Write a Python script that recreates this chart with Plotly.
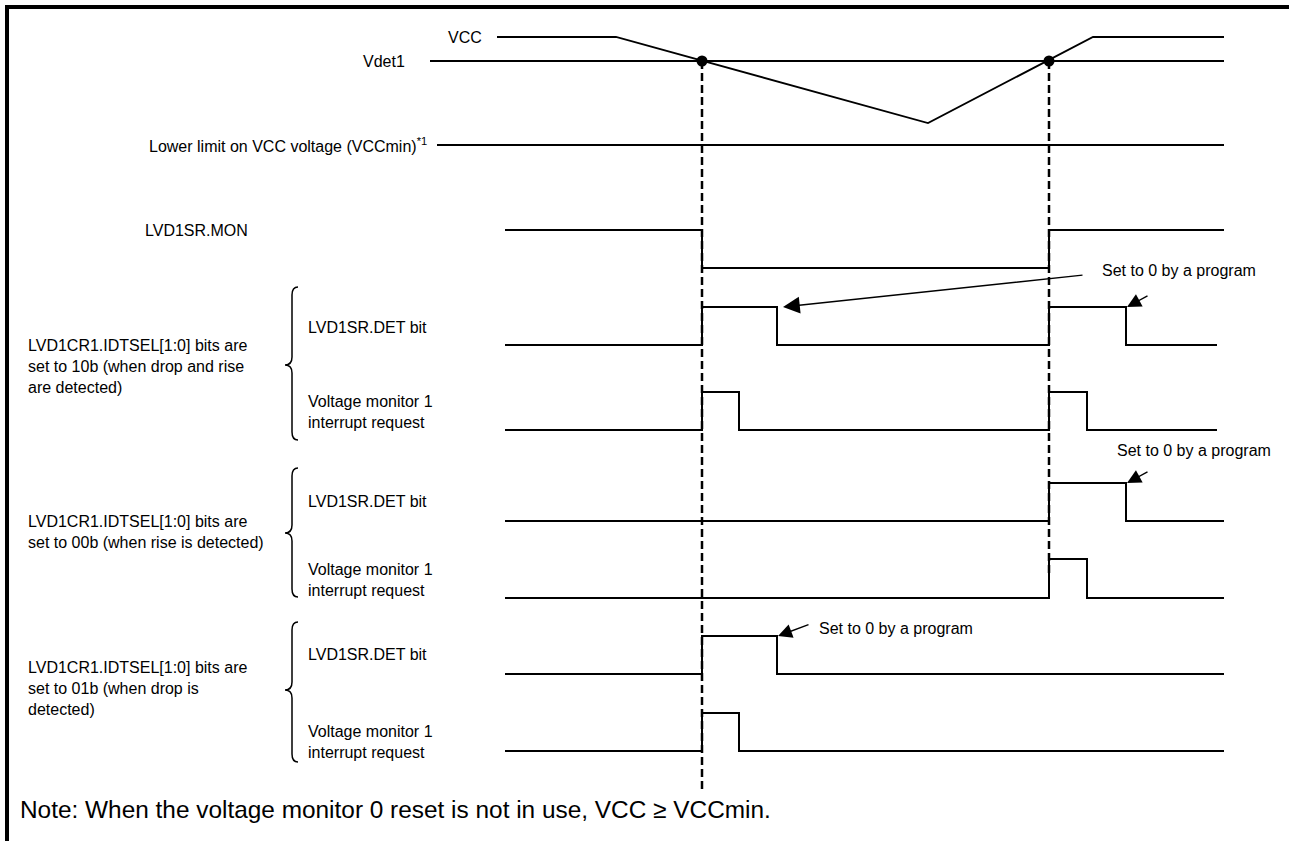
import plotly.graph_objects as go

W, H = 1289, 841
FONT = "Liberation Sans, Arial, sans-serif"
BLACK = "#000000"

# ---------------- data ----------------
# analog part (time units on the shared time axis, volts on the analog axis)
vcc_time = [497, 616, 928, 1093, 1224]
vcc_volt = [3.30, 3.30, 2.225, 3.30, 3.30]
vdet1_time = [430, 1224]
vdet1_volt = [3.00, 3.00]
vccmin_time = [437, 1224]
vccmin_volt = [1.95, 1.95]
cross_time = [702, 1049]          # VCC crosses Vdet1
cross_volt = [3.00, 3.00]

# digital signals (time, logic level)
mon_time = [505, 702, 1049, 1224]
mon_level = [1, 0, 1, 1]
det_10b_time = [505, 702, 777, 1049, 1126, 1217]
det_10b_level = [0, 1, 0, 1, 0, 0]
irq_10b_time = [505, 702, 739, 1049, 1087, 1217]
irq_10b_level = [0, 1, 0, 1, 0, 0]
det_00b_time = [505, 1049, 1126, 1224]
det_00b_level = [0, 1, 0, 0]
irq_00b_time = [505, 1049, 1087, 1224]
irq_00b_level = [0, 1, 0, 0]
det_01b_time = [505, 702, 777, 1224]
det_01b_level = [0, 1, 0, 0]
irq_01b_time = [505, 702, 739, 1224]
irq_01b_level = [0, 1, 0, 0]

# "Set to 0 by a program" events: (row, clear time)
clear_rows = ["y3", "y3", "y5", "y7"]
clear_time = [777, 1126, 1126, 777]

# text
group_labels = [
    "LVD1CR1.IDTSEL[1:0] bits are<br>set to 10b (when drop and rise<br>are detected)",
    "LVD1CR1.IDTSEL[1:0] bits are<br>set to 00b (when rise is detected)",
    "LVD1CR1.IDTSEL[1:0] bits are<br>set to 01b (when drop is<br>detected)",
]
det_label = "LVD1SR.DET bit"
irq_label = "Voltage monitor 1<br>interrupt request"
clear_label = "Set to 0 by a program"
note_text = "Note: When the voltage monitor 0 reset is not in use, VCC \u2265 VCCmin."

# ---------------- layout geometry (pixels) ----------------
row_px = {  # axis: (y of high level, y of low level)
    "y2": (230, 268),
    "y3": (307, 345),
    "y4": (392, 430),
    "y5": (483, 521),
    "y6": (559, 598),
    "y7": (636, 674),
    "y8": (713, 751),
}
PAD = 0.3
analog_top_px, analog_bot_px = 37, 145   # VCC high / VCCmin
analog_range = (1.95, 3.30)

def dom(px):  # pixel y -> paper fraction
    return 1 - px / H

fig = go.Figure()
line = dict(color=BLACK, width=2)

def add_sig(t, lv, axis):
    fig.add_trace(go.Scatter(x=t, y=lv, mode="lines", line=dict(color=BLACK, width=2, shape="hv"),
                             yaxis=axis, hoverinfo="skip", showlegend=False))

add_sig(mon_time, mon_level, "y2")
add_sig(det_10b_time, det_10b_level, "y3")
add_sig(irq_10b_time, irq_10b_level, "y4")
add_sig(det_00b_time, det_00b_level, "y5")
add_sig(irq_00b_time, irq_00b_level, "y6")
add_sig(det_01b_time, det_01b_level, "y7")
add_sig(irq_01b_time, irq_01b_level, "y8")

# analog
fig.add_trace(go.Scatter(x=vdet1_time, y=vdet1_volt, mode="lines", line=line, yaxis="y9",
                         hoverinfo="skip", showlegend=False))
fig.add_trace(go.Scatter(x=vccmin_time, y=vccmin_volt, mode="lines", line=line, yaxis="y9",
                         hoverinfo="skip", showlegend=False))
fig.add_trace(go.Scatter(x=vcc_time, y=vcc_volt, mode="lines", line=dict(color=BLACK, width=1.8),
                         yaxis="y9", hoverinfo="skip", showlegend=False))
fig.add_trace(go.Scatter(x=cross_time, y=cross_volt, mode="markers",
                         marker=dict(color=BLACK, size=11), yaxis="y9", cliponaxis=False,
                         hoverinfo="skip", showlegend=False))

# axes
layout_axes = {}
layout_axes["xaxis"] = dict(range=[0, W], domain=[0, 1], visible=False, fixedrange=True)
layout_axes["yaxis"] = dict(range=[H, 0], domain=[0, 1], visible=False, fixedrange=True)
for ax, (yh, yl) in row_px.items():
    d = yl - yh
    top = yh - PAD * d
    bot = yl + PAD * d
    layout_axes["yaxis" + ax[1:]] = dict(domain=[dom(bot), dom(top)], range=[-PAD, 1 + PAD],
                                         visible=False, anchor="x", fixedrange=True)
vpx = (analog_bot_px - analog_top_px) / (analog_range[1] - analog_range[0])
vpad = 0.25
layout_axes["yaxis9"] = dict(
    domain=[dom(analog_bot_px + vpad * vpx), dom(analog_top_px - vpad * vpx)],
    range=[analog_range[0] - vpad, analog_range[1] + vpad], visible=False, anchor="x", fixedrange=True)

shapes = []
# frame (top and left)
shapes.append(dict(type="line", xref="x", yref="y", x0=5, x1=W, y0=7, y1=7, line=dict(color=BLACK, width=4)))
shapes.append(dict(type="line", xref="x", yref="y", x0=7, x1=7, y0=5, y1=H, line=dict(color=BLACK, width=4)))
# dashed detection lines
dash_ends = [792, 575]
for t, yend in zip(cross_time, dash_ends):
    shapes.append(dict(type="line", xref="x", yref="y", x0=t, x1=t, y0=61, y1=yend,
                       line=dict(color=BLACK, width=2.5, dash="8px,4px")))
# curly braces
braces = [(287, 365, 440), (468, 533, 597), (622, 690, 762)]
xr, xm, xl, r = 298, 292, 285, 8
for top, tip, bot in braces:
    p = (f"M {xr},{top} Q {xm},{top} {xm},{top + r} L {xm},{tip - r} Q {xm},{tip} {xl},{tip} "
         f"Q {xm},{tip} {xm},{tip + r} L {xm},{bot - r} Q {xm},{bot} {xr},{bot}")
    shapes.append(dict(type="path", xref="x", yref="y", path=p, line=dict(color=BLACK, width=1.5)))

ann = []
def txt(x, y, s, xanchor="left", size=16):
    ann.append(dict(x=x, y=y, xref="x", yref="y", text=s, showarrow=False, xanchor=xanchor,
                    yanchor="middle", align="left", font=dict(family=FONT, size=size, color=BLACK)))

txt(484, 37, "VCC", "right")
txt(407, 61, "Vdet1", "right")
txt(429, 145, "Lower limit on VCC voltage (VCCmin)<sup>*1</sup>", "right")
txt(143, 230, "LVD1SR.MON")
for lab, yc in zip(group_labels, [366, 532, 688]):
    txt(26, yc, lab)
for yd, yi in zip([327, 501, 654], [412, 580, 742]):
    txt(306, yd, det_label)
    txt(306, yi, irq_label)
txt(1100, 270, clear_label)
txt(1115, 450, clear_label)
txt(817, 628, clear_label)
txt(18, 809, note_text, size=24.4)

# arrows pointing to the cleared edges
arrow_tails = [(301, -32), (22, -12), (22, -12), (32, -12)]
for row, t, (axp, ayp) in zip(clear_rows, clear_time, arrow_tails):
    long = axp > 100
    ann.append(dict(x=t + (6 if long else 1), y=1, xref="x", yref=row, text="", showarrow=True,
                    ax=axp, ay=ayp, arrowhead=2, arrowsize=2.4 if long else 2.0,
                    arrowwidth=1.4, arrowcolor=BLACK, standoff=0))

fig.update_layout(width=W, height=H, margin=dict(l=0, r=0, t=0, b=0), autosize=False,
                  paper_bgcolor="white", plot_bgcolor="rgba(0,0,0,0)",
                  shapes=shapes, annotations=ann, showlegend=False, **layout_axes)

fig.write_html("out.html", config={"displayModeBar": False},
               post_script="document.body.style.margin='0';document.body.style.overflow='hidden';")
